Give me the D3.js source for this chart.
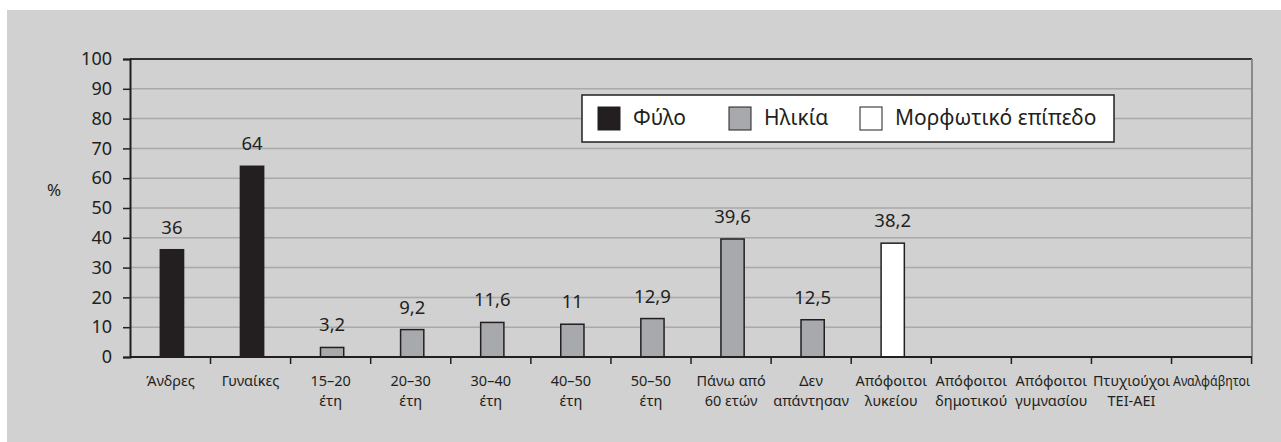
<!DOCTYPE html>
<html>
<head>
<meta charset="utf-8" />
<title>Φύλο, ηλικία, μορφωτικό επίπεδο</title>
<script src="https://d3js.org/d3.v7.min.js"></script>
<style>
  body { margin: 0; background: #ffffff; }
  text { font-family: "Noto Sans", "Open Sans", sans-serif; fill: #231f20; }
</style>
</head>
<body>
<svg id="viz"></svg>

<script>
// categories (line breaks with "|")
var categories = ["Άνδρες", "Γυναίκες", "15–20|έτη", "20–30|έτη", "30–40|έτη",
  "40–50|έτη", "50–50|έτη", "Πάνω από|60 ετών", "Δεν|απάντησαν",
  "Απόφοιτοι|λυκείου", "Απόφοιτοι|δημοτικού", "Απόφοιτοι|γυμνασίου",
  "Πτυχιούχοι|ΤΕΙ-ΑΕΙ", "Αναλφάβητοι"];
var values = [36, 64, 3.2, 9.2, 11.6, 11, 12.9, 39.6, 12.5, 38.2, null, null, null, null];
var groups = ["Φύλο", "Φύλο", "Ηλικία", "Ηλικία", "Ηλικία", "Ηλικία", "Ηλικία", "Ηλικία", "Ηλικία",
  "Μορφωτικό επίπεδο", "Μορφωτικό επίπεδο", "Μορφωτικό επίπεδο", "Μορφωτικό επίπεδο", "Μορφωτικό επίπεδο"];
var legendLabels = ["Φύλο", "Ηλικία", "Μορφωτικό επίπεδο"];
var yTicks = [0, 10, 20, 30, 40, 50, 60, 70, 80, 90, 100];

var width = 1281, height = 442;
var plotLeft = 130, plotRight = 1252, plotTop = 59, plotBottom = 357;

var svg = d3.select("#viz").attr("width", width).attr("height", height);

// panel background
svg.append("rect")
  .attr("x", 7).attr("y", 10)
  .attr("width", width - 7).attr("height", height - 10)
  .attr("fill", "#d1d1d1");

var xScale = d3.scaleBand()
  .domain(categories)
  .range([plotLeft, plotRight])
  .paddingInner(0.71)
  .paddingOuter(0.36);

var step = (plotRight - plotLeft) / categories.length;

var yScale = d3.scaleLinear().domain([0, 100]).range([plotBottom, plotTop]);

var colorScale = d3.scaleOrdinal()
  .domain(legendLabels)
  .range(["#231f20", "#a7a9ac", "#ffffff"]);

// gridlines
svg.append("g")
  .selectAll("line")
  .data(yTicks.filter(function(d) { return d > 0 && d < 100; }))
  .enter().append("line")
  .attr("x1", plotLeft).attr("x2", plotRight)
  .attr("y1", function(d) { return yScale(d); })
  .attr("y2", function(d) { return yScale(d); })
  .attr("stroke", "#a9a9a9")
  .attr("stroke-width", 1.5);

// frame: top dark, right grey
svg.append("line")
  .attr("x1", plotLeft).attr("x2", plotRight)
  .attr("y1", plotTop).attr("y2", plotTop)
  .attr("stroke", "#333").attr("stroke-width", 2);
svg.append("line")
  .attr("x1", plotRight).attr("x2", plotRight)
  .attr("y1", plotTop).attr("y2", plotBottom)
  .attr("stroke", "#8a8a8a").attr("stroke-width", 2);

// y axis
var yAxis = svg.append("g")
  .attr("transform", "translate(" + plotLeft + ",0)")
  .call(d3.axisLeft(yScale).tickValues(yTicks).tickSize(7).tickPadding(11));
yAxis.select(".domain").attr("stroke", "#231f20").attr("stroke-width", 2);
yAxis.selectAll(".tick line").attr("stroke", "#231f20").attr("stroke-width", 1.5);
yAxis.selectAll("text")
  .style("font-family", "'Noto Sans', sans-serif")
  .style("font-size", "18px")
  .attr("fill", "#231f20");

svg.append("text")
  .attr("x", 54).attr("y", 196)
  .attr("text-anchor", "middle")
  .style("font-size", "17px")
  .text("%");

// bars
var data = categories.map(function(c, i) {
  return { cat: c, value: values[i], group: groups[i] };
}).filter(function(d) { return d.value !== null; });

svg.append("g")
  .selectAll("rect")
  .data(data)
  .enter().append("rect")
  .attr("x", function(d) { return xScale(d.cat) + 1.5; })
  .attr("y", function(d) { return yScale(d.value); })
  .attr("width", xScale.bandwidth())
  .attr("height", function(d) { return plotBottom - yScale(d.value); })
  .attr("fill", function(d) { return colorScale(d.group); })
  .attr("stroke", "#231f20")
  .attr("stroke-width", 1.5);

// value labels
var fmt = function(v) { return String(v).replace(".", ","); };
svg.append("g")
  .selectAll("text")
  .data(data)
  .enter().append("text")
  .attr("x", function(d) { return xScale(d.cat) + 1.5 + xScale.bandwidth() / 2; })
  .attr("y", function(d) { return yScale(d.value) - 16; })
  .attr("text-anchor", "middle")
  .style("font-size", "18.5px")
  .text(function(d) { return fmt(d.value); });

// x axis line
svg.append("line")
  .attr("x1", plotLeft).attr("x2", plotRight)
  .attr("y1", plotBottom).attr("y2", plotBottom)
  .attr("stroke", "#231f20").attr("stroke-width", 2);

// x ticks at category boundaries
svg.append("g")
  .selectAll("line")
  .data(categories)
  .enter().append("line")
  .attr("x1", function(d) { return xScale(d) + xScale.bandwidth() / 2 + step / 2; })
  .attr("x2", function(d) { return xScale(d) + xScale.bandwidth() / 2 + step / 2; })
  .attr("y1", plotBottom).attr("y2", plotBottom + 7)
  .attr("stroke", "#231f20").attr("stroke-width", 1.5);

// x labels
var xl = svg.append("g")
  .selectAll("text")
  .data(categories)
  .enter().append("text")
  .attr("text-anchor", "middle")
  .attr("transform", function(d) {
    return "translate(" + (xScale(d) + xScale.bandwidth() / 2) + "," + 386 + ")";
  })
  .style("font-size", "14.5px");
xl.selectAll("tspan")
  .data(function(d) { return d.split("|"); })
  .enter().append("tspan")
  .attr("x", 0)
  .attr("dy", function(d, i) { return i === 0 ? 0 : 20; })
  .text(function(d) { return d; })
  .each(function() {
    // squeeze labels that are wider than the slot (like the narrow type in the source)
    var maxW = step - 3;
    if (this.getComputedTextLength() > maxW) {
      d3.select(this).attr("textLength", maxW).attr("lengthAdjust", "spacingAndGlyphs");
    }
  });

// legend
var legend = svg.append("g").attr("transform", "translate(582,95)");
legend.append("rect")
  .attr("width", 532).attr("height", 47)
  .attr("fill", "#ffffff")
  .attr("stroke", "#231f20").attr("stroke-width", 1.5);

var legendX = [16, 147, 278];
var items = legend.selectAll("g.item")
  .data(legendLabels)
  .enter().append("g")
  .attr("class", "item")
  .attr("transform", function(d, i) { return "translate(" + legendX[i] + ",12)"; });
items.append("rect")
  .attr("width", 22).attr("height", 23)
  .attr("fill", function(d) { return colorScale(d); })
  .attr("stroke", "#231f20").attr("stroke-width", 1);
items.append("text")
  .attr("x", 35).attr("y", 18)
  .style("font-size", "21px")
  .text(function(d) { return d; });
</script>
</body>
</html>
